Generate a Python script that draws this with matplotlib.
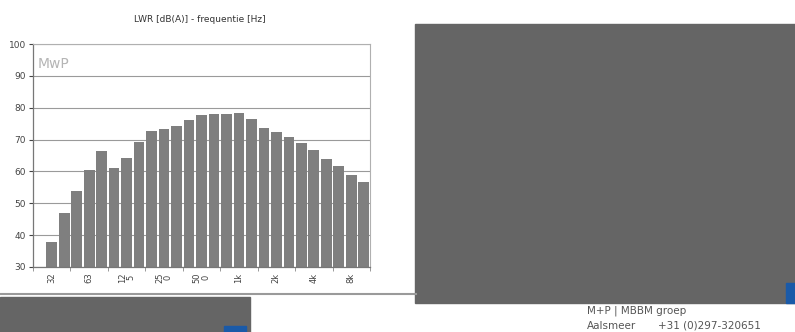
import matplotlib.pyplot as plt
from matplotlib.patches import Rectangle
from matplotlib.lines import Line2D
import numpy as np

# third-octave bands 25 Hz - 10 kHz
bands = ['25', '31.5', '40', '50', '63', '80', '100', '125', '160', '200', '250',
         '315', '400', '500', '630', '800', '1k', '1.25k', '1.6k', '2k', '2.5k',
         '3.15k', '4k', '5k', '6.3k', '8k', '10k']
lwr = [np.nan, 37.9, 47.0, 53.7, 60.5, 66.5, 61.0, 64.3, 69.2, 72.6, 73.4,
       74.2, 76.0, 77.7, 78.0, 78.1, 78.4, 76.6, 73.7, 72.3, 70.7,
       69.0, 66.6, 64.0, 61.6, 59.0, 56.7]
tick_idx = [1, 4, 7, 10, 13, 16, 19, 22, 25]
tick_labels = ['32', '63', '12\n5', '25\n0', '50\n0', '1k', '2k', '4k', '8k']

W, H = 795, 332
fig = plt.figure(figsize=(W / 100, H / 100), dpi=100)

def fx(x):
    return x / W

def fy(y):
    return 1 - y / H

# page elements around the chart
fig.patches.append(Rectangle((fx(415), fy(303)), fx(795) - fx(415), fy(24) - fy(303),
                             transform=fig.transFigure, color='#656565', zorder=0))
fig.patches.append(Rectangle((fx(786), fy(303)), fx(9), fy(283) - fy(303),
                             transform=fig.transFigure, color='#1a5aa8', zorder=1))
fig.patches.append(Rectangle((0, 0), fx(250), fy(297),
                             transform=fig.transFigure, color='#656565', zorder=0))
fig.patches.append(Rectangle((fx(224), 0), fx(22), fy(326),
                             transform=fig.transFigure, color='#1a5aa8', zorder=1))
fig.lines.append(Line2D([0, fx(416)], [fy(294), fy(294)], transform=fig.transFigure,
                        color='#9a9a9a', lw=1.5))

fig.text(fx(587), fy(311), 'M+P | MBBM groep', fontsize=7.5, color='#555555',
         va='center', ha='left')
fig.text(fx(587), fy(326), 'Aalsmeer', fontsize=7.5, color='#555555',
         va='center', ha='left')
fig.text(fx(658), fy(326), '+31 (0)297-320651', fontsize=7.5, color='#555555',
         va='center', ha='left')

# chart
ax = fig.add_axes([fx(33), fy(267), fx(370) - fx(33), fy(44) - fy(267)])
x = np.arange(len(bands))
ax.bar(x, np.array(lwr) - 30, bottom=30, width=0.86, color='#7f7f7f', zorder=2)

ax.set_xlim(-0.5, len(bands) - 0.5)
ax.set_ylim(30, 100)
ax.set_yticks(range(30, 101, 10))
ax.yaxis.grid(True, color='#9a9a9a', lw=0.8, zorder=0)
ax.set_axisbelow(True)

ax.set_xticks(tick_idx)
ax.set_xticklabels(tick_labels, rotation=90, fontsize=6, color='#444444',
                   linespacing=0.9, va='top')
ax.set_xticks(np.arange(-0.5, len(bands), 3), minor=True)
ax.tick_params(axis='x', which='major', length=0, pad=4)
ax.tick_params(axis='x', which='minor', length=3, color='#888888')
ax.tick_params(axis='y', labelsize=6.5, colors='#444444', length=3, pad=2)

for s in ['top', 'right']:
    ax.spines[s].set_color('#b0b0b0')
    ax.spines[s].set_linewidth(0.8)
for s in ['left', 'bottom']:
    ax.spines[s].set_color('#777777')
    ax.spines[s].set_linewidth(0.9)

ax.text(0.015, 0.94, 'MwP', transform=ax.transAxes, fontsize=10, color='#b5b5b5',
        va='top', ha='left')

fig.text(fx(200), fy(20), 'LWR [dB(A)] - frequentie [Hz]', fontsize=6.5,
         color='#333333', ha='center', va='center')

plt.savefig('out.png', dpi=100)
